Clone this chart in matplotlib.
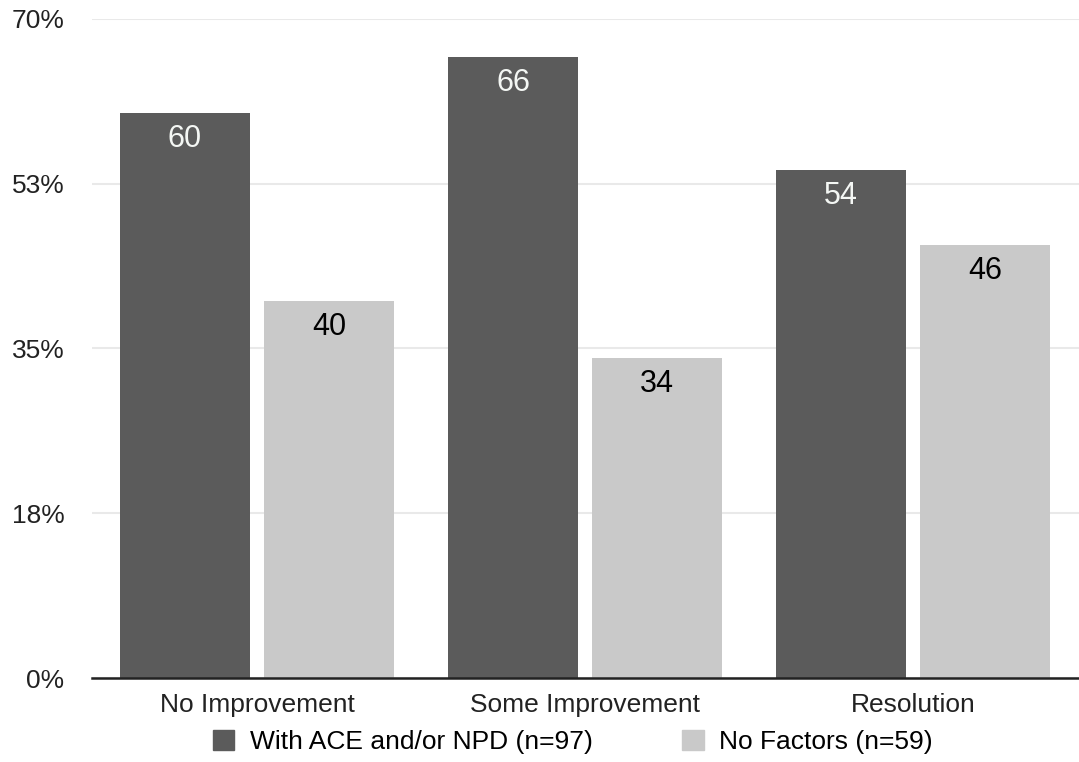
import numpy as np
import matplotlib
matplotlib.use("Agg")
from matplotlib import pyplot as plt
from matplotlib.patches import Patch

categories = ["No Improvement", "Some Improvement", "Resolution"]
with_factors = [60, 66, 54]
no_factors = [40, 34, 46]
series_names = ["With ACE and/or NPD (n=97)", "No Factors (n=59)"]
yticks = [0, 17.5, 35, 52.5, 70]
ytick_labels = ["0%", "18%", "35%", "53%", "70%"]

dark = "#5b5b5b"
light = "#c9c9c9"

plt.rcParams['font.family'] = ['Liberation Sans', 'DejaVu Sans']

fig = plt.figure(figsize=(10.79, 7.62), dpi=100)
ax = fig.add_axes([0.0853, 0.1102, 0.9147, 0.865])

x = np.arange(len(categories))
w = 0.396
off = 0.2195
b1 = ax.bar(x - off, with_factors, w, color=dark, zorder=2)
b2 = ax.bar(x + off, no_factors, w, color=light, zorder=2)

# value labels sit just inside the top of each bar
for bars, vals, col in ((b1, with_factors, "#f4f7f4"), (b2, no_factors, "black")):
    for r, v in zip(bars, vals):
        ax.annotate(str(v), (r.get_x() + r.get_width() / 2, v),
                    xytext=(0, -18.7), textcoords="offset points",
                    ha="center", va="center", fontsize=22, color=col)

ax.set_xlim(-0.503, 2.506)
ax.set_ylim(0, 70)
ax.set_yticks(yticks)
ax.set_yticklabels(ytick_labels)
ax.set_xticks(x)
ax.set_xticklabels(categories)
ax.tick_params(axis="both", length=0, labelsize=19, colors="#222222")
ax.tick_params(axis="y", pad=20)
ax.tick_params(axis="x", pad=11)
ax.grid(axis="y", color="#e9e9e9", lw=1.5, zorder=0)
for s in ("top", "right", "left"):
    ax.spines[s].set_visible(False)
ax.spines["bottom"].set_color("#222222")
ax.spines["bottom"].set_linewidth(1.8)
ax.spines["bottom"].set_zorder(3)

handles = [Patch(color=dark), Patch(color=light)]
fig.legend(handles, series_names, loc="center", bbox_to_anchor=(0.531, 0.026),
           ncol=2, frameon=False, fontsize=19, handlelength=0.8, handleheight=0.8,
           handletextpad=0.6, columnspacing=3.4, borderpad=0, borderaxespad=0)

fig.savefig("out.png", dpi=100)
